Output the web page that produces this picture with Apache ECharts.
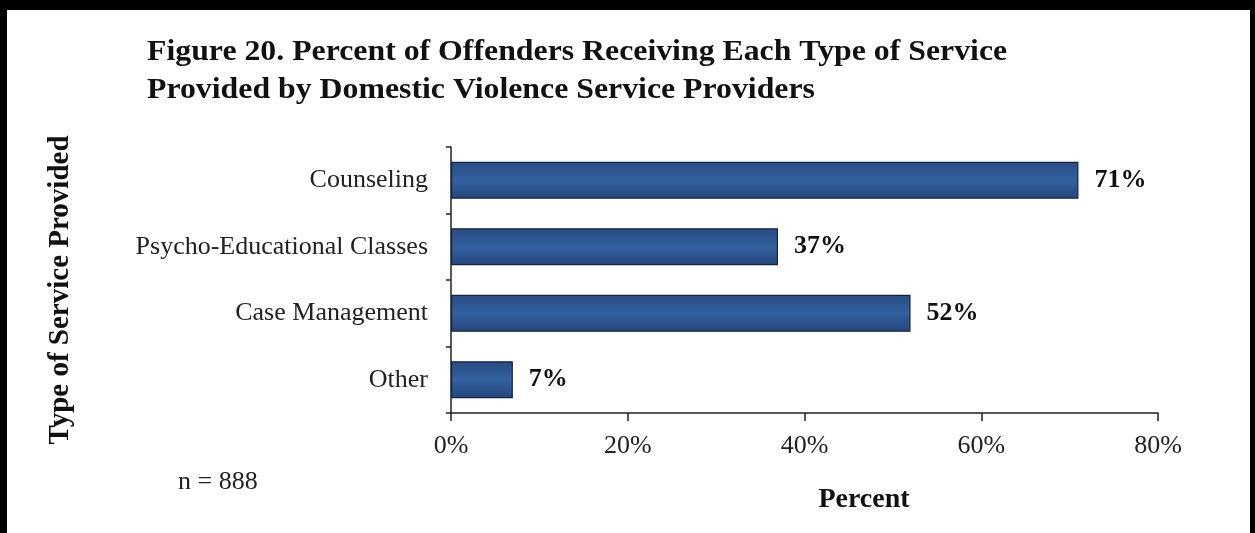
<!DOCTYPE html>
<html><head><meta charset="utf-8">
<script src="https://cdn.jsdelivr.net/npm/echarts@6/dist/echarts.min.js"></script>
<style>html,body{margin:0;padding:0;background:#fff}#c{width:1255px;height:533px}</style>
</head><body><div id="c"></div>
<script>
const categories = ["Counseling", "Psycho-Educational Classes", "Case Management", "Other"];
const values = [71, 37, 52, 7];
const xTicks = [0, 20, 40, 60, 80];
const titleLines = ["Figure 20. Percent of Offenders Receiving Each Type of Service", "Provided by Domestic Violence Service Providers"];
const note = "n = 888";
const yAxisName = "Type of Service Provided";
const xAxisName = "Percent";

const serif = '"Liberation Serif", "DejaVu Serif", serif';
const chart = echarts.init(document.getElementById('c'));
chart.setOption({
  animation: false,
  backgroundColor: '#fff',
  grid: { left: 451, right: 97, top: 147, bottom: 120, containLabel: false },
  xAxis: {
    type: 'value', min: 0, max: 80, interval: 20,
    name: xAxisName, nameLocation: 'middle', nameGap: 73,
    nameTextStyle: { fontFamily: serif, fontWeight: 'bold', fontSize: 28, color: '#111', padding: [0, 0, 0, 119] },
    axisLine: { show: true, lineStyle: { color: '#222', width: 1.5 } },
    axisTick: { show: true, length: 8, lineStyle: { color: '#222', width: 1.5 } },
    axisLabel: { formatter: v => xTicks.includes(v) ? v + '%' : '', fontFamily: serif, fontSize: 26, color: '#222', margin: 20 },
    splitLine: { show: false }
  },
  yAxis: {
    type: 'category', data: categories, inverse: true,
    axisLine: { show: true, lineStyle: { color: '#222', width: 1.5 } },
    axisTick: { show: true, length: 5, alignWithLabel: false, lineStyle: { color: '#222', width: 1.5 } },
    axisLabel: { fontFamily: serif, fontSize: 26, color: '#222', margin: 23 }
  },
  series: [{
    type: 'bar', data: values, barWidth: 37,
    itemStyle: {
      color: new echarts.graphic.LinearGradient(0, 0, 0, 1, [
        { offset: 0, color: '#2a4b84' },
        { offset: 0.5, color: '#3262a0' },
        { offset: 1, color: '#25457c' }
      ]),
      borderColor: '#142440', borderWidth: 1.2
    },
    label: {
      show: true, position: 'right', distance: 16, formatter: p => p.value + '%',
      fontFamily: serif, fontWeight: 'bold', fontSize: 26, color: '#111'
    }
  }],
  graphic: [
    { type: 'text', x: 147, y: 33, scaleX: 1.06, style: { text: titleLines.join('\n'), font: 'bold 30px ' + serif, fill: '#111', lineHeight: 38, verticalAlign: 'top' } },
    { type: 'text', x: 61, y: 290, rotation: Math.PI / 2, style: { text: yAxisName, font: 'bold 29px ' + serif, fill: '#111', align: 'center', verticalAlign: 'middle' } },
    { type: 'text', left: 178, top: 469, style: { text: note, font: '26px ' + serif, fill: '#222' } },
    { type: 'rect', shape: { x: 0, y: 0, width: 1255, height: 10 }, style: { fill: '#000' } },
    { type: 'rect', shape: { x: 0, y: 0, width: 7, height: 533 }, style: { fill: '#000' } },
    { type: 'rect', shape: { x: 1250, y: 0, width: 5, height: 533 }, style: { fill: '#000' } }
  ]
});
</script></body></html>
